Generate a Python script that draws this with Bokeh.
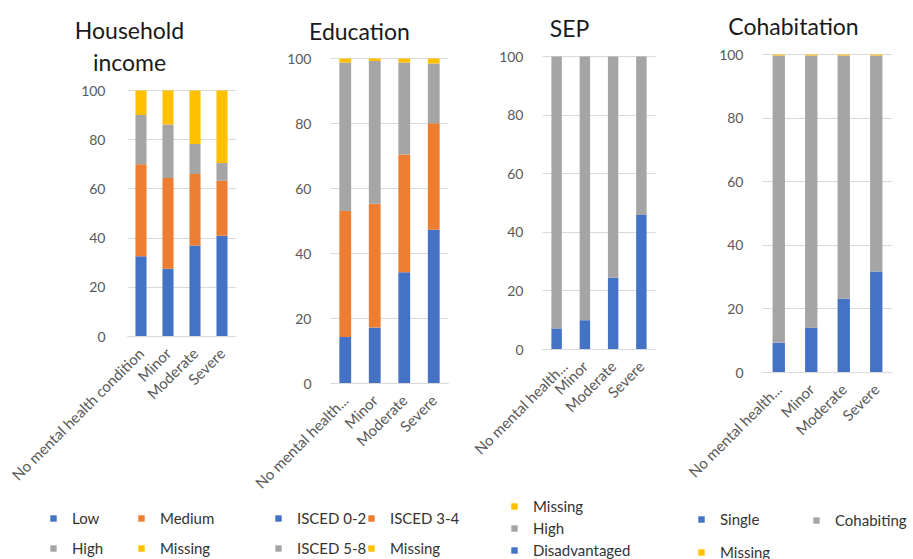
import math
from bokeh.plotting import figure
from bokeh.layouts import row
from bokeh.models import (ColumnDataSource, Legend, LegendItem, Label, FixedTicker,
                          Range1d, Grid)
from bokeh.embed import file_html
from bokeh.resources import INLINE

FONT = "Lato"

# ---------------- data ----------------
categories = ["No mental health condition", "Minor", "Moderate", "Severe"]
categories_short = ["No mental health...", "Minor", "Moderate", "Severe"]

income_low = [32.6, 27.5, 37.0, 41.0]
income_medium = [37.4, 36.9, 29.1, 22.3]
income_high = [20.0, 21.8, 12.2, 7.2]
income_missing = [10.0, 13.8, 21.7, 29.5]

edu_isced02 = [14.3, 17.2, 34.2, 47.3]
edu_isced34 = [38.8, 38.1, 36.3, 32.8]
edu_isced58 = [45.7, 43.9, 28.3, 18.4]
edu_missing = [1.2, 0.8, 1.2, 1.5]

sep_disadv = [7.2, 10.0, 24.5, 45.9]
sep_high = [92.8, 90.0, 75.5, 54.1]
sep_missing = [0.0, 0.0, 0.0, 0.0]

coh_single = [9.4, 14.1, 23.2, 31.8]
coh_cohab = [90.3, 85.6, 76.5, 67.9]
coh_missing = [0.3, 0.3, 0.3, 0.3]

y_ticks = [0, 20, 40, 60, 80, 100]

BLUE, ORANGE, GRAY, YELLOW = "#4472C4", "#ED7D31", "#A5A5A5", "#FFC000"
TICK_COL = "#595959"
GRID_COL = "#D9D9D9"
H = 559
HAS_CROSS = "cross_bounds" in Grid.properties()


def make_panel(offset, width, a, b, y100, y0, labels, series, names, colors,
               bar_w, titles, legend_cols, y_standoff=13):
    # a, b: page x of chart area; y100, y0: page y of 100 and 0
    band = (b - a) / 4.0
    a_rel = a - offset
    xs = -0.5 - a_rel / band
    xe = xs + width / band
    k = (y0 - y100) / 100.0
    ys = -(H - y0) / k
    ye = 100 + y100 / k

    p = figure(width=width, height=H, x_range=Range1d(xs, xe), y_range=Range1d(ys, ye),
               output_backend="svg", toolbar_location=None,
               min_border_left=0, min_border_right=0, min_border_top=0, min_border_bottom=0)
    p.outline_line_color = None
    p.background_fill_color = None
    p.border_fill_color = None
    p.xgrid.grid_line_color = None
    p.ygrid.ticker = FixedTicker(ticks=y_ticks)
    if HAS_CROSS:
        p.ygrid.grid_line_color = GRID_COL
        p.ygrid.cross_bounds = (-0.5, 3.5)
    else:
        p.ygrid.grid_line_color = None
        p.segment(x0=-0.5, x1=3.5, y0=y_ticks, y1=y_ticks, line_color=GRID_COL, line_width=1)

    idx = list(range(len(labels)))
    p.yaxis.ticker = FixedTicker(ticks=y_ticks)
    p.yaxis.fixed_location = -0.5
    p.yaxis.axis_line_color = None
    p.yaxis.major_tick_line_color = None
    p.yaxis.minor_tick_line_color = None
    p.yaxis.major_label_text_font = FONT
    p.yaxis.major_label_text_font_size = "14px"
    p.yaxis.major_label_text_color = TICK_COL
    p.yaxis.major_label_standoff = y_standoff

    p.xaxis.ticker = FixedTicker(ticks=idx)
    p.xaxis.major_label_overrides = {i: lab for i, lab in zip(idx, labels)}
    p.xaxis.fixed_location = 0
    p.xaxis.bounds = (-0.5, 3.5)
    p.xaxis.axis_line_color = GRID_COL
    p.xaxis.major_tick_line_color = None
    p.xaxis.minor_tick_line_color = None
    p.xaxis.major_label_text_font = FONT
    p.xaxis.major_label_text_font_size = "15px"
    p.xaxis.major_label_text_color = TICK_COL
    p.xaxis.major_label_orientation = math.pi / 4
    p.xaxis.major_label_standoff = 8

    data = {"x": idx, "cat": labels}
    for n, s in zip(names, series):
        data[n] = s
    src = ColumnDataSource(data)
    rends = p.vbar_stack(names, x="x", width=bar_w, color=colors, source=src,
                         line_color=None)
    rmap = dict(zip(names, rends))

    for (txt, cx, base) in titles:
        p.add_layout(Label(x=(cx - a) / band - 0.5, y=(y0 - base) / k,
                           text=txt, text_font=FONT, text_font_size="23px",
                           text_color="#1a1a1a", text_align="center",
                           text_baseline="alphabetic"))

    for (items, gx, first_cy, pitch) in legend_cols:
        ih = 17
        n = len(items)
        spacing = int(round(pitch - ih))
        top_y = first_cy - ih / 2
        height = n * ih + (n - 1) * spacing
        bot_y = top_y + height
        leg = Legend(items=[LegendItem(label=lab, renderers=[rmap[lab]]) for lab in items],
                     location=(gx - offset, H - bot_y),
                     orientation="vertical", spacing=spacing,
                     glyph_width=8, glyph_height=8, label_height=8, label_width=10,
                     label_standoff=15, padding=0, margin=0,
                     background_fill_alpha=0, border_line_alpha=0,
                     label_text_font=FONT, label_text_font_size="15px",
                     label_text_color="#333333", label_text_baseline="middle")
        p.add_layout(leg)
    return p


p1 = make_panel(
    0, 250, 127, 235, 90, 336, categories,
    [income_low, income_medium, income_high, income_missing],
    ["Low", "Medium", "High", "Missing"], [BLUE, ORANGE, GRAY, YELLOW], 0.41,
    [("Household", 129, 29), ("income", 129, 61)],
    [(["Low", "High"], 49, 519, 29.5),
     (["Medium", "Missing"], 137, 519, 29.5)],
    y_standoff=16)

p2 = make_panel(
    250, 220, 330, 448, 58, 383, categories_short,
    [edu_isced02, edu_isced34, edu_isced58, edu_missing],
    ["ISCED 0-2", "ISCED 3-4", "ISCED 5-8", "Missing"], [BLUE, ORANGE, GRAY, YELLOW], 0.4,
    [("Education", 359, 30)],
    [(["ISCED 0-2", "ISCED 5-8"], 274, 519, 29.5),
     (["ISCED 3-4", "Missing"], 367, 519, 29.5)])

p3 = make_panel(
    470, 210, 542, 655, 56, 349, categories_short,
    [sep_disadv, sep_high, sep_missing],
    ["Disadvantaged", "High", "Missing"], [BLUE, GRAY, YELLOW], 0.37,
    [("SEP", 569, 27)],
    [(["Missing", "High", "Disadvantaged"], 510, 508, 20.5)])

p4 = make_panel(
    680, 233, 762, 892, 54, 372, categories_short,
    [coh_single, coh_cohab, coh_missing],
    ["Single", "Cohabiting", "Missing"], [BLUE, GRAY, YELLOW], 0.38,
    [("Cohabitation", 793, 25)],
    [(["Single", "Missing"], 697, 520, 32),
     (["Cohabiting"], 812, 520, 32)])

layout = row(p1, p2, p3, p4, spacing=0)
open("out.html", "w").write(file_html(layout, INLINE))
